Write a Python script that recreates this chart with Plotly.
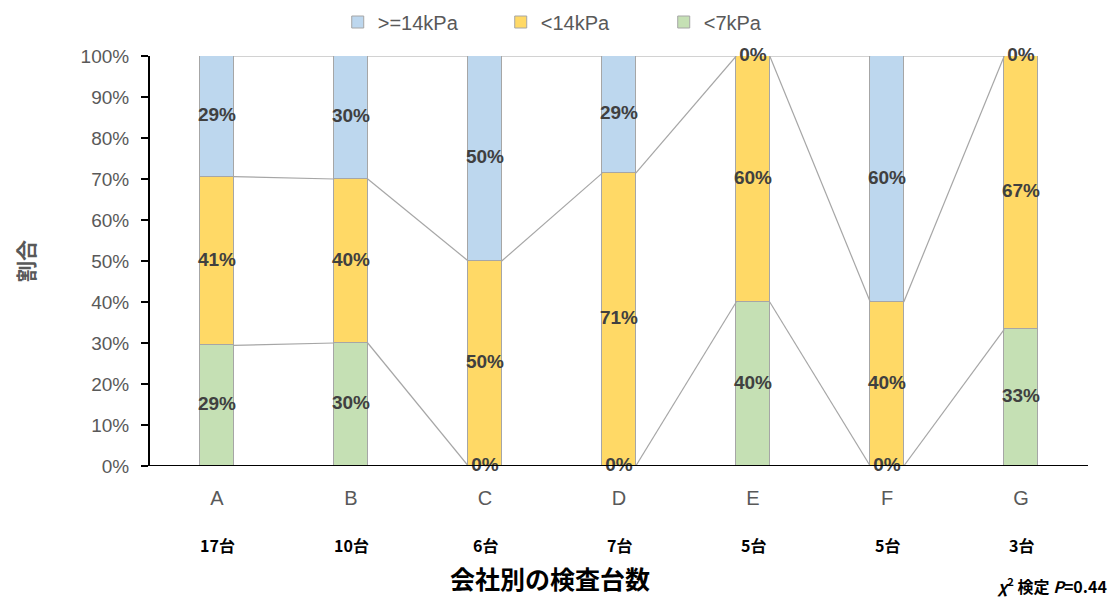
import plotly.graph_objects as go

# Company categories and inspected-unit counts
companies = ["A", "B", "C", "D", "E", "F", "G"]
unit_counts = ["17台", "10台", "6台", "7台", "5台", "5台", "3台"]

# Share of each pressure class per company (fractions, stacked bottom -> top)
share_lt7 = [5/17, 0.30, 0.00, 0.00, 0.40, 0.00, 1/3]
share_lt14 = [7/17, 0.40, 0.50, 5/7, 0.60, 0.40, 2/3]
share_ge14 = [5/17, 0.30, 0.50, 2/7, 0.00, 0.60, 0.00]

series = [
    ("<7kPa", share_lt7, "#C5E0B4"),
    ("<14kPa", share_lt14, "#FFD966"),
    (">=14kPa", share_ge14, "#BDD7EE"),
]

BAR_W = 0.25
EDGE = "#A6A6A6"
LABEL_FONT = "Liberation Sans, Noto Sans CJK JP, sans-serif"
JP_FONT = "Noto Sans CJK JP, sans-serif"

xs = list(range(len(companies)))
fig = go.Figure()

# Stacked bars (legend order: >=14kPa, <14kPa, <7kPa)
for rank, (name, vals, col) in enumerate(series):
    fig.add_trace(go.Bar(
        x=xs, y=vals, name=name, width=BAR_W,
        marker=dict(color=col, line=dict(color=EDGE, width=1)),
        legendrank=10 - rank, hoverinfo="skip",
    ))

# Series lines joining segment tops of neighbouring bars
cum = [0.0] * len(xs)
bottoms = []
for name, vals, col in series:
    top = [c + v for c, v in zip(cum, vals)]
    bottoms.append(list(cum))
    lx, ly = [], []
    for i in range(len(xs) - 1):
        lx += [xs[i] + BAR_W / 2, xs[i + 1] - BAR_W / 2, None]
        ly += [top[i], top[i + 1], None]
    fig.add_trace(go.Scatter(x=lx, y=ly, mode="lines", showlegend=False,
                             line=dict(color=EDGE, width=1.2), hoverinfo="skip"))
    cum = top

# Percentage labels centred in each segment
for (name, vals, col), base in zip(series, bottoms):
    fig.add_trace(go.Scatter(
        x=xs, y=[b + v / 2 for b, v in zip(base, vals)],
        mode="text", text=[f"<b>{round(v * 100):.0f}%</b>" for v in vals],
        textfont=dict(family=LABEL_FONT, size=19, color="#404040"),
        showlegend=False, hoverinfo="skip", cliponaxis=False,
    ))

# Unit counts under each company letter
for x, c in zip(xs, unit_counts):
    fig.add_annotation(x=x, y=-79 / 410, xref="x", yref="paper", yanchor="middle",
                       text=f"<b>{c}</b>", showarrow=False,
                       font=dict(family=JP_FONT, size=16, color="#000000"))

fig.add_annotation(x=0.5 - 69 / 938, y=-112 / 410, xref="paper", yref="paper", yanchor="middle",
                   text="<b>会社別の検査台数</b>", showarrow=False,
                   font=dict(family=JP_FONT, size=25, color="#000000"))
fig.add_annotation(xref="paper", yref="paper", x=1.022, y=-119 / 410, yanchor="middle",
                   text="<b><i>χ</i><sup>2</sup> 検定 <i>P</i>=0.44</b>", showarrow=False,
                   xanchor="right", font=dict(family=JP_FONT, size=16, color="#000000"))

fig.update_layout(
    width=1109, height=597,
    margin=dict(l=150, r=21, t=56, b=131, autoexpand=False),
    paper_bgcolor="white", plot_bgcolor="white",
    barmode="stack", bargap=0,
    legend=dict(orientation="h", xref="container", yref="container",
                x=0.525, xanchor="center", y=1 - 22 / 597, yanchor="middle",
                font=dict(family=LABEL_FONT, size=20, color="#595959"),
                entrywidth=118, traceorder="normal"),
    xaxis=dict(
        range=[-0.5, len(xs) - 0.5], tickmode="array", tickvals=xs, ticktext=companies,
        showgrid=False, zeroline=False, showline=False, ticks="", ticklabelstandoff=18,
        tickfont=dict(family="Liberation Sans Narrow, Liberation Sans, sans-serif", size=20, color="#595959"),
    ),
    yaxis=dict(
        range=[0, 1], tickmode="array", tickvals=[i / 10 for i in range(11)],
        tickformat=".0%", showgrid=False, zeroline=False,
        showline=True, linecolor="#000000", linewidth=2,
        ticks="outside", ticklen=7, tickcolor="#000000", tickwidth=2, ticklabelstandoff=8,
        tickfont=dict(family=LABEL_FONT, size=19, color="#595959"),
        title=dict(text="<b>割合</b>", font=dict(family=JP_FONT, size=21, color="#595959"), standoff=40),
    ),
)

# Baseline at 0%
fig.add_shape(type="line", xref="paper", yref="y", x0=0, x1=1, y0=0, y1=0,
              line=dict(color="#000000", width=2), layer="above")

fig.write_html("out.html")
